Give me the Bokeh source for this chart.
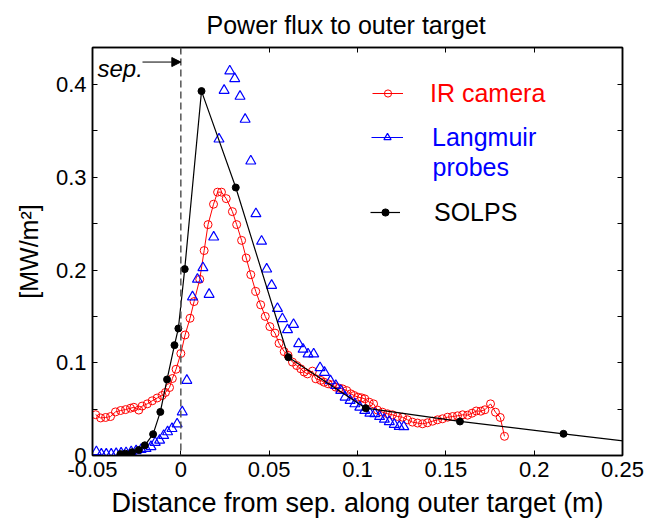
from bokeh.plotting import figure
from bokeh.models import (Legend, LegendItem, LinearAxis, FixedTicker, Span,
                          Label, Arrow, NormalHead, Range1d)
from bokeh.embed import file_html
from bokeh.resources import INLINE

FONT = "Liberation Sans"

# ---------------- data ----------------
ir_x = [-0.0482, -0.0454, -0.0426, -0.0398, -0.0370, -0.0341, -0.0313, -0.0285,
        -0.0266, -0.0238, -0.0219, -0.0190, -0.0162, -0.0134, -0.0106, -0.0087,
        -0.0064, -0.0048, -0.0027, 0.0000, 0.0024, 0.0052, 0.0075, 0.0107,
        0.0132, 0.0154, 0.0185, 0.0208, 0.0230, 0.0257, 0.0292, 0.0316,
        0.0344, 0.0370, 0.0396, 0.0424, 0.0452, 0.0478, 0.0504, 0.0533,
        0.0556, 0.0585, 0.0607, 0.0632, 0.0656, 0.0679, 0.0698, 0.0717,
        0.0745, 0.0764, 0.0792, 0.0811, 0.0834, 0.0858, 0.0877, 0.0896,
        0.0915, 0.0939, 0.0962, 0.0981, 0.1003, 0.1023, 0.1041, 0.1066,
        0.1091, 0.1113, 0.1141, 0.1170, 0.1198, 0.1226, 0.1255, 0.1283,
        0.1311, 0.1340, 0.1368, 0.1396, 0.1425, 0.1453, 0.1481, 0.1510,
        0.1538, 0.1566, 0.1595, 0.1623, 0.1648, 0.1672, 0.1698, 0.1721,
        0.1753, 0.1781, 0.1808, 0.1832]
ir_y = [0.0440, 0.0405, 0.0410, 0.0420, 0.0470, 0.0485, 0.0495, 0.0510,
        0.0520, 0.0490, 0.0533, 0.0557, 0.0590, 0.0620, 0.0647, 0.0680,
        0.0733, 0.0830, 0.0930, 0.1100, 0.1300, 0.1480, 0.1660, 0.1900,
        0.2210, 0.2490, 0.2710, 0.2840, 0.2840, 0.2770, 0.2630, 0.2490,
        0.2320, 0.2130, 0.1950, 0.1770, 0.1625, 0.1500, 0.1390, 0.1320,
        0.1210, 0.1120, 0.1080, 0.1007, 0.0970, 0.0935, 0.0900, 0.0880,
        0.0910, 0.0827, 0.0810, 0.0790, 0.0773, 0.0762, 0.0737, 0.0726,
        0.0719, 0.0700, 0.0665, 0.0647, 0.0629, 0.0622, 0.0611, 0.0575,
        0.0557, 0.0490, 0.0467, 0.0450, 0.0439, 0.0421, 0.0413, 0.0385,
        0.0360, 0.0350, 0.0342, 0.0353, 0.0370, 0.0385, 0.0396, 0.0413,
        0.0420, 0.0428, 0.0439, 0.0435, 0.0456, 0.0480, 0.0478, 0.0493,
        0.0557, 0.0467, 0.0410, 0.0207]

lp_x = [-0.0478, -0.0450, -0.0422, -0.0394, -0.0366, -0.0338, -0.0310, -0.0281,
        -0.0253, -0.0225, -0.0197, -0.0169, -0.0145, -0.0120, -0.0097, -0.0075,
        -0.0050, -0.0021, 0.0008, 0.0034, 0.0066, 0.0094, 0.0125, 0.0160,
        0.0186, 0.0216, 0.0245, 0.0277, 0.0305, 0.0335, 0.0364, 0.0396,
        0.0425, 0.0457, 0.0486, 0.0514, 0.0547, 0.0575, 0.0604, 0.0638,
        0.0667, 0.0692, 0.0720, 0.0752, 0.0788, 0.0813, 0.0847, 0.0877,
        0.0905, 0.0930, 0.0958, 0.0985, 0.1013, 0.1041, 0.1070, 0.1098,
        0.1125, 0.1152, 0.1180, 0.1208, 0.1236, 0.1262]
lp_y = [0.0040, 0.0015, 0.0015, 0.0015, 0.0020, 0.0025, 0.0030, 0.0040,
        0.0050, 0.0065, 0.0075, 0.0095, 0.0140, 0.0165, 0.0215, 0.0255,
        0.0290, 0.0340, 0.0470, 0.0810, 0.1710, 0.1900, 0.2025, 0.1737,
        0.2355, 0.3412, 0.3937, 0.4146, 0.4064, 0.3873, 0.3625, 0.3175,
        0.2607, 0.2310, 0.2010, 0.1834, 0.1585, 0.1474, 0.1356, 0.1413,
        0.1205, 0.1145, 0.1095, 0.1095, 0.0946, 0.0896, 0.0805, 0.0755,
        0.0701, 0.0629, 0.0593, 0.0557, 0.0521, 0.0485, 0.0455, 0.0450,
        0.0420, 0.0390, 0.0365, 0.0335, 0.0313, 0.0310]

solps_x = [-0.0342, -0.0314, -0.0276, -0.0238, -0.0204, -0.0157, -0.0116, -0.0078,
           -0.0036, -0.0014, 0.0022, 0.0117, 0.0311, 0.0609, 0.1047, 0.1580,
           0.2166, 0.3000]
solps_y = [0.0015, 0.0020, 0.0035, 0.0060, 0.0110, 0.0230, 0.0470, 0.0820,
           0.1190, 0.1370, 0.2010, 0.3930, 0.2890, 0.1060, 0.0510, 0.0367,
           0.0234, 0.0047]

x_ticks = [-0.05, 0, 0.05, 0.1, 0.15, 0.2, 0.25]
x_tick_labels = ["-0.05", "0", "0.05", "0.1", "0.15", "0.2", "0.25"]
y_ticks = [0, 0.1, 0.2, 0.3, 0.4]
y_tick_labels = ["0", "0.1", "0.2", "0.3", "0.4"]
y_minor_ticks = [0.05, 0.15, 0.25, 0.35]

RED = "#ff0000"
BLUE = "#0000ff"
NAN = float("nan")

# ---------------- figure ----------------
p = figure(width=659, height=524, output_backend="svg", toolbar_location=None,
           x_range=Range1d(-0.05, 0.25), y_range=Range1d(0, 0.44),
           min_border_left=92, min_border_right=37, min_border_top=47,
           min_border_bottom=69, background_fill_color="white",
           border_fill_color="white")
p.grid.visible = False
p.outline_line_color = "black"
p.outline_line_width = 1.5

p.title.text = "Power flux to outer target"
p.title.text_font = FONT
p.title.text_font_size = "25px"
p.title.text_font_style = "normal"
p.title.text_color = "black"
p.title.align = "left"
p.title.offset = 114
p.title.standoff = 17


def style_axis(ax, labels=True):
    ax.axis_line_color = "black"
    ax.axis_line_width = 1.5
    ax.major_tick_in = 5
    ax.major_tick_out = 0
    ax.minor_tick_in = 5
    ax.minor_tick_out = 0
    ax.major_tick_line_color = "black"
    ax.minor_tick_line_color = "black"
    ax.major_tick_line_width = 1
    ax.minor_tick_line_width = 1
    ax.major_label_text_font = FONT
    ax.major_label_text_color = "black"
    if labels:
        ax.major_label_text_font_size = "22px"
        ax.axis_label_text_font = FONT
        ax.axis_label_text_font_style = "normal"
        ax.axis_label_text_color = "black"
    else:
        ax.major_label_text_font_size = "2px"
        ax.major_label_standoff = 0


xa = p.xaxis[0]
xa.ticker = FixedTicker(ticks=x_ticks)
xa.major_label_overrides = dict(zip(x_ticks, x_tick_labels))
xa.axis_label = "Distance from sep. along outer target (m)"
style_axis(xa)
xa.axis_label_text_font_size = "27px"
xa.major_label_standoff = 6
xa.axis_label_standoff = 8

ya = p.yaxis[0]
ya.ticker = FixedTicker(ticks=y_ticks, minor_ticks=y_minor_ticks)
ya.major_label_overrides = dict(zip(y_ticks, y_tick_labels))
ya.axis_label = "[MW/m²]"
style_axis(ya)
ya.axis_label_text_font_size = "25px"
ya.major_label_standoff = 6
ya.axis_label_standoff = 10

# tick-only axes on the right and top (labels blanked)
ra = LinearAxis(ticker=FixedTicker(ticks=y_ticks, minor_ticks=y_minor_ticks),
                major_label_overrides={t: "" for t in y_ticks})
style_axis(ra, labels=False)
p.add_layout(ra, "right")
ta = LinearAxis(ticker=FixedTicker(ticks=x_ticks),
                major_label_overrides={t: "" for t in x_ticks})
style_axis(ta, labels=False)
p.add_layout(ta, "above")

# separatrix
p.add_layout(Span(location=0, dimension="height", line_color="#555555",
                  line_width=1.5, line_dash="7 4"))
p.add_layout(Arrow(end=NormalHead(size=9, fill_color="black", line_color="black"),
                   x_start=-0.0217, y_start=0.4243, x_end=0.0, y_end=0.4243,
                   line_color="black", line_width=1))
p.add_layout(Label(x=-0.0472, y=0.4175, text="sep.", text_font=FONT,
                   text_font_size="24px", text_font_style="italic",
                   text_color="black", text_baseline="alphabetic"))

# series
ir_line = p.line(ir_x, ir_y, line_color=RED, line_width=1)
ir_pts = p.scatter(ir_x, ir_y, marker="circle", size=8, fill_color=None,
                   line_color=RED, line_width=1)

# line used only for the legend swatch of the probes (no visible points)
lp_leg_line = p.line(x=[NAN], y=[NAN], line_color=BLUE, line_width=1)
lp_pts = p.scatter(lp_x, lp_y, marker="triangle", size=10, fill_color=None,
                   line_color=BLUE, line_width=1.2)

solps_line = p.line(solps_x, solps_y, line_color="black", line_width=1.2)
solps_pts = p.scatter(solps_x, solps_y, marker="circle", size=7,
                      fill_color="black", line_color="black")


def add_legend(label, renderers, loc, color, gw, standoff):
    leg = Legend(items=[LegendItem(label=label, renderers=renderers)],
                 location=loc, border_line_color=None,
                 background_fill_alpha=0, padding=0, margin=0,
                 glyph_width=gw, glyph_height=18, label_height=30,
                 label_standoff=standoff, label_text_font=FONT,
                 label_text_font_size="25px", label_text_color=color)
    p.add_layout(leg, "center")


add_legend("IR camera", [ir_line, ir_pts], (280, 347), RED, 31, 27)
add_legend("Langmuir", [lp_leg_line, lp_pts], (279, 303), BLUE, 32, 29)
add_legend("SOLPS", [solps_line, solps_pts], (278, 228), "black", 30, 34)

p.add_layout(Label(x=0.1425, y=0.3107, text="probes", text_font=FONT,
                   text_font_size="25px", text_color=BLUE,
                   text_baseline="middle"))

open("out.html", "w").write(file_html(p, INLINE))
